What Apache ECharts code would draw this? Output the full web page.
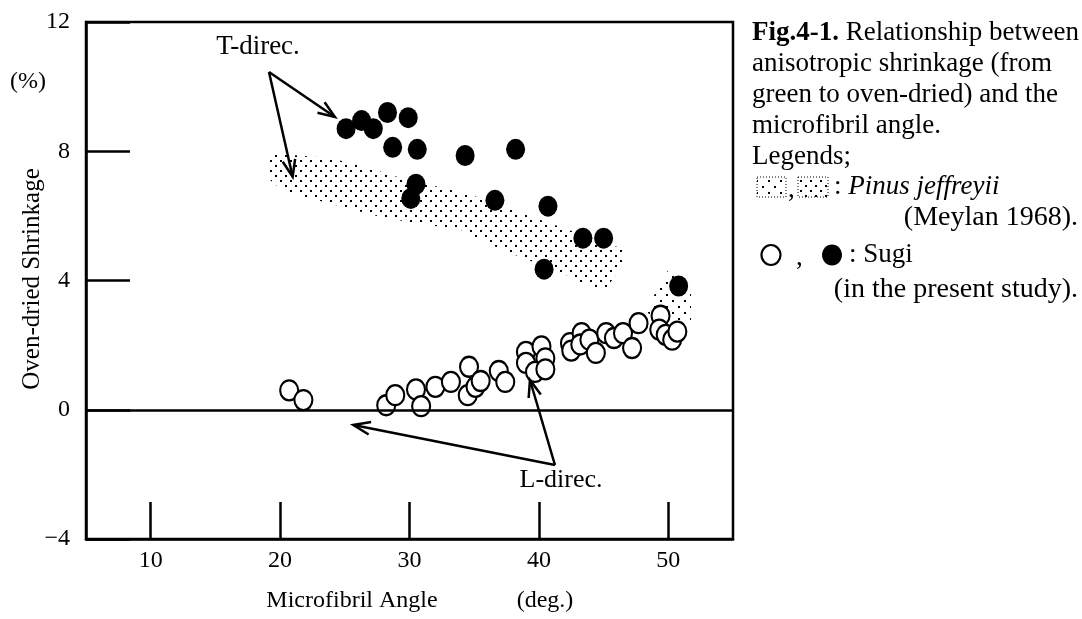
<!DOCTYPE html>
<html><head><meta charset="utf-8">
<script src="https://cdn.jsdelivr.net/npm/echarts@6/dist/echarts.min.js"></script>
<style>html,body{margin:0;padding:0;background:#fff;}#c{width:1082px;height:619px;}</style>
</head><body><div id="c"></div>
<script>
// ---- data ----
const xTickValues = [10, 20, 30, 40, 50];
const yTickValues = [-4, 0, 4, 8, 12];
// Sugi, T-direction (filled circles)
const tAngle  = [25.1, 26.3, 27.2, 28.3, 29.9, 28.7, 30.6, 34.3, 38.2, 30.5, 30.1, 36.6, 40.7, 43.4, 45.0, 40.4, 50.8];
const tShrink = [8.70, 8.95, 8.70, 9.20, 9.04, 8.12, 8.06, 7.87, 8.06, 6.98, 6.54, 6.48, 6.30, 5.31, 5.31, 4.35, 3.83];
// Sugi, L-direction (open circles)
const lAngle  = [20.7, 21.8, 28.2, 28.9, 30.5, 30.9, 32.0, 33.2, 34.5, 34.6, 35.1, 35.5, 36.9, 37.4, 39.0, 39.0, 40.2, 40.5, 39.7, 40.5, 42.4, 42.5, 43.3, 43.2, 43.9, 44.4, 45.2, 45.8, 46.5, 47.2, 47.7, 49.4, 49.3, 49.8, 50.3, 50.7];
const lShrink = [0.60, 0.30, 0.14, 0.45, 0.63, 0.11, 0.71, 0.86, 0.45, 1.33, 0.71, 0.89, 1.20, 0.86, 1.79, 1.45, 1.96, 1.59, 1.17, 1.25, 2.06, 1.83, 2.37, 2.02, 2.17, 1.76, 2.37, 2.22, 2.37, 1.91, 2.68, 2.91, 2.48, 2.32, 2.17, 2.42];
// Pinus jeffreyii (Meylan 1968), T-direction band outline
const pinusTAngle  = [19.2, 23.85, 26.93, 28.71, 31.57, 34.89, 38.52, 42.23, 45.63, 46.6, 46.6, 45.24, 44.16, 41.61, 37.2, 33.88, 31.02, 27.93, 23.61, 21.53, 20.22, 19.2];
const pinusTShrink = [7.94, 7.79, 7.48, 7.24, 6.96, 6.63, 6.10, 5.58, 5.06, 5.03, 4.57, 3.77, 3.77, 4.26, 4.94, 5.58, 5.74, 5.95, 6.41, 6.63, 6.78, 7.12];
// Pinus jeffreyii, L-direction region outline
const pinusLAngle  = [49.98, 51.75, 51.75, 48.97, 48.28];
const pinusLShrink = [4.32, 3.64, 2.71, 2.71, 3.09];
// annotation arrows: [fromX, fromY, toX, toY]
const tArrows = [[19.14, 10.45, 24.24, 9.06], [19.14, 10.45, 20.97, 7.21]];
const lArrows = [[41.24, -1.71, 25.66, -0.47], [41.24, -1.71, 39.31, 0.92]];

const FONT = "'Liberation Serif','Times New Roman',serif";
const CAP = 27;

function dotPattern(tile, dot, pts) {
  const c = document.createElement('canvas');
  c.width = tile; c.height = tile;
  const g = c.getContext('2d');
  g.fillStyle = '#000';
  pts.forEach(p => g.fillRect(p[0], p[1], dot, dot));
  return c;
}
const patDense = dotPattern(10, 2, [[0, 0], [5, 5]]);
const patLight = dotPattern(12, 2, [[0, 0], [6, 6]]);

function polygonSeries(xs, ys, pat) {
  return {
    type: 'custom', coordinateSystem: 'cartesian2d', silent: true, z: 1,
    data: [[30, 4]],
    renderItem: function (params, api) {
      const pts = xs.map((x, i) => api.coord([x, ys[i]]));
      return { type: 'polygon', shape: { points: pts }, style: { fill: { image: pat, repeat: 'repeat' }, stroke: null } };
    }
  };
}
function arrowSeries(arrows) {
  return {
    type: 'custom', coordinateSystem: 'cartesian2d', silent: true, z: 5,
    data: [[30, 4]],
    renderItem: function (params, api) {
      const children = [];
      arrows.forEach(a => {
        const p0 = api.coord([a[0], a[1]]), p1 = api.coord([a[2], a[3]]);
        const dx = p1[0] - p0[0], dy = p1[1] - p0[1], L = Math.hypot(dx, dy);
        const ux = dx / L, uy = dy / L, hl = 18, th = 0.36;
        const h = s => [p1[0] - hl * (ux * Math.cos(th) - s * uy * Math.sin(th)), p1[1] - hl * (uy * Math.cos(th) + s * ux * Math.sin(th))];
        children.push({ type: 'line', shape: { x1: p0[0], y1: p0[1], x2: p1[0], y2: p1[1] }, style: { stroke: '#000', lineWidth: 2.5 } });
        children.push({ type: 'polyline', shape: { points: [h(1), p1, h(-1)] }, style: { stroke: '#000', lineWidth: 2.5, fill: null } });
      });
      return { type: 'group', children: children };
    }
  };
}

const chart = echarts.init(document.getElementById('c'), null, { renderer: 'canvas' });
const txt = (x, y, s, extra) => ({ type: 'text', x: x, y: y, style: Object.assign({ text: s, font: '24px ' + FONT, fill: '#000', textAlign: 'left', textVerticalAlign: 'middle' }, extra || {}) });
const cap = (x, y, s, extra) => txt(x, y, s, Object.assign({ font: CAP + 'px ' + FONT }, extra || {}));

chart.setOption({
  backgroundColor: '#fff',
  animation: false,
  grid: { left: 86, right: 349, top: 22, bottom: 80, show: true, borderColor: '#000', borderWidth: 2.5, backgroundColor: 'transparent' },
  xAxis: {
    type: 'value', min: 5, max: 55,
    axisLine: { show: true, onZero: false, lineStyle: { color: '#000', width: 2.5 } },
    axisTick: { show: true, inside: true, length: 37, lineStyle: { color: '#000', width: 2.5 }, customValues: xTickValues },
    axisLabel: { color: '#000', fontSize: 24, fontFamily: FONT, margin: 10, customValues: xTickValues },
    splitLine: { show: false }
  },
  yAxis: {
    type: 'value', min: -4, max: 12, interval: 4,
    axisLine: { show: true, onZero: false, lineStyle: { color: '#000', width: 2.5 } },
    axisTick: { show: true, inside: true, length: 44, lineStyle: { color: '#000', width: 2.5 } },
    axisLabel: { color: '#000', fontSize: 24, fontFamily: FONT, margin: 16, formatter: v => v < 0 ? '\u2212' + Math.abs(v) : String(v) },
    splitLine: { show: false }
  },
  series: [
    polygonSeries(pinusTAngle, pinusTShrink, patDense),
    polygonSeries(pinusLAngle, pinusLShrink, patLight),
    {
      type: 'scatter', z: 3, symbol: 'circle', symbolSize: [18, 20],
      data: lAngle.map((x, i) => [x, lShrink[i]]),
      itemStyle: { color: '#fff', borderColor: '#000', borderWidth: 2.2, opacity: 1 },
      markLine: { silent: true, symbol: 'none', label: { show: false }, lineStyle: { color: '#000', width: 2.5, type: 'solid' }, data: [{ yAxis: 0 }] }
    },
    {
      type: 'scatter', z: 4, symbol: 'circle', symbolSize: [19, 21],
      data: tAngle.map((x, i) => [x, tShrink[i]]),
      itemStyle: { color: '#000', opacity: 1 }
    },
    arrowSeries(tArrows),
    arrowSeries(lArrows)
  ],
  graphic: [
    txt(258, 47, 'T-direc.', { textAlign: 'center', font: '27px ' + FONT }),
    txt(561, 480, 'L-direc.', { textAlign: 'center', font: '26px ' + FONT }),
    txt(28, 82, '(%)', { textAlign: 'center' }),
    { type: 'text', x: 32, y: 279, rotation: Math.PI / 2, style: { text: 'Oven-dried Shrinkage', font: '25px ' + FONT, fill: '#000', textAlign: 'center', textVerticalAlign: 'middle' } },
    txt(352, 601, 'Microfibril Angle', { textAlign: 'center' }),
    txt(545, 601, '(deg.)', { textAlign: 'center' }),
    { type: 'text', x: 752, y: 33, style: { text: '{b|Fig.4-1.} Relationship between', font: CAP + 'px ' + FONT, fill: '#000', textVerticalAlign: 'middle', rich: { b: { fontWeight: 'bold', fontSize: CAP, fontFamily: FONT } } } },
    cap(752, 64, 'anisotropic shrinkage (from'),
    cap(752, 95, 'green to oven-dried) and the'),
    cap(752, 126, 'microfibril angle.'),
    cap(752, 157, 'Legends;'),
    { type: 'rect', shape: { x: 757, y: 177, width: 29, height: 20 }, style: { fill: { image: patLight, repeat: 'repeat' }, stroke: '#000', lineWidth: 1, lineDash: [1, 2] } },
    cap(788, 190, ','),
    { type: 'rect', shape: { x: 798, y: 177, width: 30, height: 20 }, style: { fill: { image: patDense, repeat: 'repeat' }, stroke: '#000', lineWidth: 1, lineDash: [1, 2] } },
    { type: 'text', x: 834, y: 187, style: { text: ': {i|Pinus jeffreyii}', font: CAP + 'px ' + FONT, fill: '#000', textVerticalAlign: 'middle', rich: { i: { fontStyle: 'italic', fontSize: CAP, fontFamily: FONT } } } },
    cap(1078, 218, '(Meylan 1968).', { textAlign: 'right', font: '28px ' + FONT }),
    { type: 'ellipse', shape: { cx: 771, cy: 255, rx: 9.5, ry: 10 }, style: { fill: '#fff', stroke: '#000', lineWidth: 2.2 } },
    cap(796, 258, ','),
    { type: 'ellipse', shape: { cx: 832, cy: 255, rx: 10, ry: 10.5 }, style: { fill: '#000' } },
    cap(849, 255, ': Sugi'),
    cap(1078, 290, '(in the present study).', { textAlign: 'right', font: '28px ' + FONT })
  ]
});
</script>
</body></html>
